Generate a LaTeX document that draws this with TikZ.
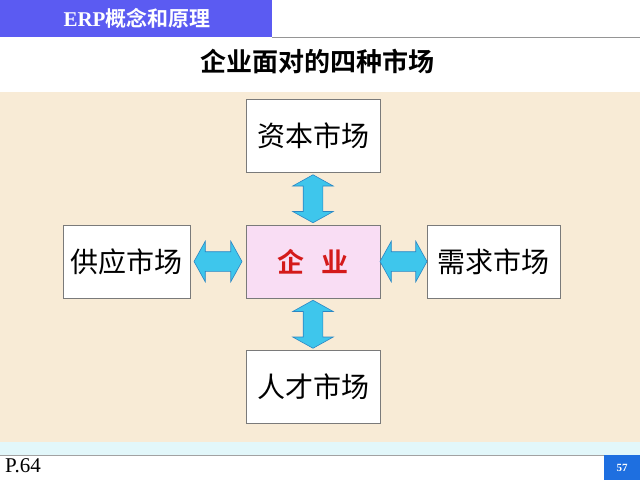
\documentclass[tikz,border=0pt]{standalone}
\usepackage{fontspec}
\setmainfont{Liberation Serif}
\newfontfamily\cjk{Noto Sans CJK SC}[BoldFont={Noto Sans CJK SC Bold}]
\usetikzlibrary{shapes.arrows,calc}
\definecolor{hdrblue}{HTML}{5B5BF2}
\definecolor{beige}{HTML}{F8EBD6}
\definecolor{cyanstrip}{HTML}{E2F7FA}
\definecolor{pinkbox}{HTML}{F9DDF4}
\definecolor{arrfill}{HTML}{3EC6EC}
\definecolor{arrdraw}{HTML}{2B86C4}
\definecolor{boxline}{HTML}{7A7A7A}
\definecolor{pageblue}{HTML}{1E6FE0}
\definecolor{qired}{HTML}{D41A1A}
\tikzset{
  market/.style={draw=boxline, line width=0.8pt, fill=white, minimum width=134pt, minimum height=73pt, font=\cjk\fontsize{28}{32}\selectfont, text=black, inner sep=0pt},
  dblarrow/.style={double arrow, draw=arrdraw, fill=arrfill, line width=0.6pt, minimum height=48pt, minimum width=40pt, inner xsep=0pt, inner ysep=9.5pt, double arrow head extend=10.5pt, double arrow tip angle=122},
}
\begin{document}
\begin{tikzpicture}[x=1pt,y=-1pt]
\useasboundingbox (0,0) rectangle (640,480);
\fill[white] (0,0) rectangle (640,480);
% background panel
\fill[beige] (0,92) rectangle (640,442);
\fill[cyanstrip] (0,442) rectangle (640,455);
\draw[boxline!70, line width=0.8pt] (0,455) -- (640,455);
% header
\fill[hdrblue] (0,0) rectangle (272,37);
\draw[boxline!80, line width=0.8pt] (272,37) -- (640,37);
\node[text=white, anchor=center] (hdr) at (137,18) {\fontsize{21}{24}\selectfont\bfseries ERP{\cjk 概念和原理}};
% title
\node (title) at (317,61) {\cjk\bfseries\fontsize{26}{30}\selectfont 企业面对的四种市场};
% boxes
\node[market] (top) at (313,136) {资本市场};
\node[market, fill=pinkbox, font=\cjk\bfseries\fontsize{27}{30}\selectfont, text=qired] (center) at (313,261.5) {企\hspace{0.6em}业};
\node[market, minimum width=127pt] (left) at (126.5,261.5) {供应市场};
\node[market, minimum width=133pt] (right) at (493.5,261.5) {需求市场};
\node[market] (bottom) at (313,387) {人才市场};
% arrows
\node[dblarrow, minimum height=48pt, rotate=90] (atop) at ($(top.south)!0.5!(center.north)$) {};
\node[dblarrow, minimum height=48pt, rotate=90] (abot) at ($(center.south)!0.5!(bottom.north)$) {};
\node[dblarrow, minimum height=48pt] (aleft) at ($(left.east)!0.5!(center.west)$) {};
\node[dblarrow, minimum height=47pt] (aright) at ($(center.east)!0.5!(right.west)$) {};
% footer
\node[anchor=west, inner sep=0pt] (pg) at (5,466) {\fontsize{21}{24}\selectfont P.64};
\fill[pageblue] (604,455) rectangle (640,480);
\node[text=white, inner sep=0pt] (num) at (622,468) {\fontsize{11}{13}\selectfont\bfseries 57};
\end{tikzpicture}
\end{document}
